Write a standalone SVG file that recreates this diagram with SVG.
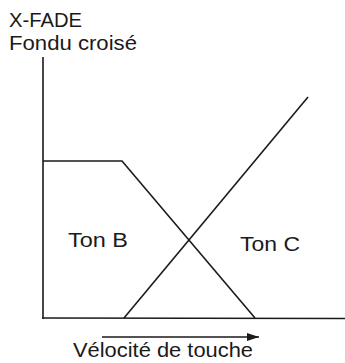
<svg xmlns="http://www.w3.org/2000/svg" width="345" height="363" viewBox="0 0 345 363">
<style>
text{font-family:"Liberation Sans",Arial,sans-serif;font-size:20px;fill:#1a1a1a}
.ln{stroke:#1a1a1a;stroke-width:1.6;fill:none;stroke-linecap:butt}
</style>
<defs>
<marker id="ah" viewBox="0 0 12 8" refX="12" refY="4" markerWidth="12" markerHeight="8" markerUnits="userSpaceOnUse" orient="auto">
<path d="M0,0 L12,4 L0,8 Z" fill="#1a1a1a"/>
</marker>
</defs>
<rect width="345" height="363" fill="#fff"/>
<g id="title">
<text x="9" y="27" textLength="73" lengthAdjust="spacingAndGlyphs">X-FADE</text>
<text x="9" y="50" textLength="128" lengthAdjust="spacingAndGlyphs">Fondu croisé</text>
</g>
<g id="axes">
<line class="ln" x1="43" y1="57" x2="43" y2="319"/>
<line class="ln" x1="42.2" y1="318" x2="345" y2="318.5" stroke-width="2"/>
</g>
<g id="connectors">
<polyline class="ln" points="43,161 122,161 255,318"/>
<line class="ln" x1="124" y1="318" x2="308" y2="97"/>
<line class="ln" x1="102" y1="337" x2="259" y2="337" stroke-width="2" marker-end="url(#ah)"/>
</g>
<g id="tonB"><text x="68" y="247" textLength="60" lengthAdjust="spacingAndGlyphs">Ton B</text></g>
<g id="tonC"><text x="240" y="251" textLength="60" lengthAdjust="spacingAndGlyphs">Ton C</text></g>
<g id="xlabel"><text x="73" y="357" textLength="180" lengthAdjust="spacingAndGlyphs">Vélocité de touche</text></g>
</svg>
